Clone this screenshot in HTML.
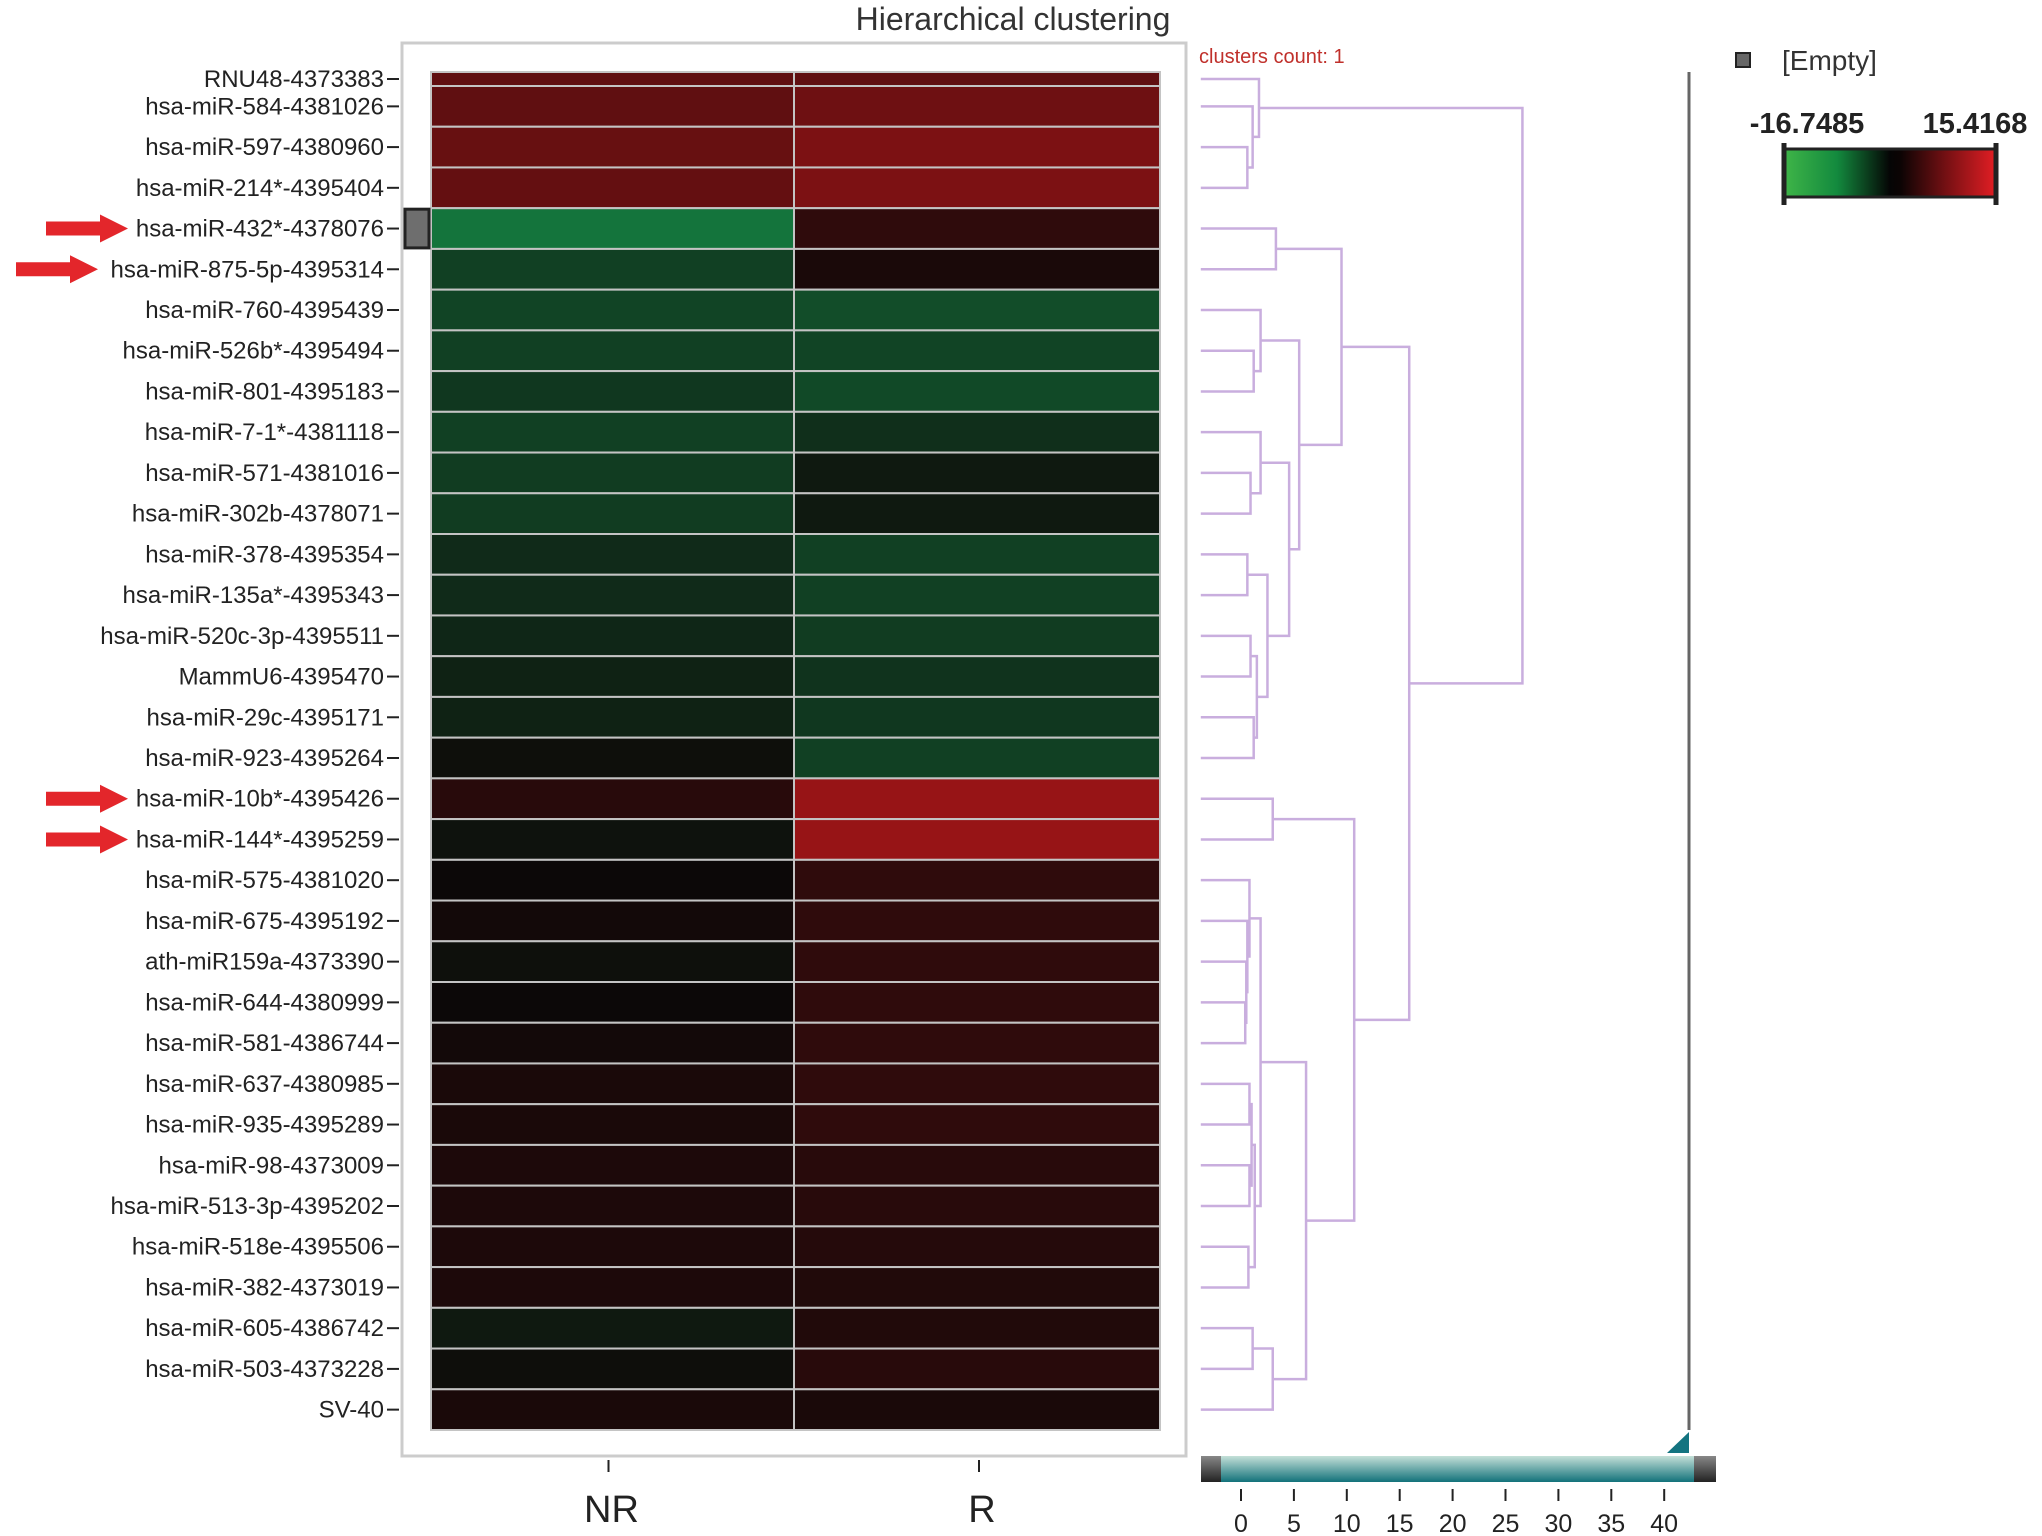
<!DOCTYPE html>
<html><head><meta charset="utf-8"><style>
html,body{margin:0;padding:0;background:#fff;}
svg{display:block;font-family:"Liberation Sans",sans-serif;}
</style></head><body>
<svg id="chart" width="2042" height="1536" viewBox="0 0 2042 1536" xmlns="http://www.w3.org/2000/svg">
<defs>
<linearGradient id="cbar" x1="0" x2="1" y1="0" y2="0">
<stop offset="0" stop-color="#3fb548"/><stop offset="0.25" stop-color="#138a3e"/><stop offset="0.5" stop-color="#050505"/><stop offset="0.55" stop-color="#0c0404"/><stop offset="0.75" stop-color="#6e0f12"/><stop offset="1" stop-color="#e31e24"/>
</linearGradient>
<linearGradient id="teal" x1="0" x2="0" y1="0" y2="1">
<stop offset="0" stop-color="#c4e0d8"/><stop offset="1" stop-color="#12727a"/>
</linearGradient>
<linearGradient id="cap" x1="0" x2="0" y1="0" y2="1">
<stop offset="0" stop-color="#888"/><stop offset="1" stop-color="#222"/>
</linearGradient>
</defs>
<text x="1013" y="30" text-anchor="middle" font-size="32" fill="#333">Hierarchical clustering</text>
<rect x="402" y="43" width="784" height="1413" fill="#fff" stroke="#ccc" stroke-width="3"/>
<g id="heat"></g>
<g id="labels"></g>
<g id="dendro"></g>
<text x="1199" y="63" font-size="20" fill="#c0302b">clusters count: 1</text>
<line x1="1689" y1="72" x2="1689" y2="1430" stroke="#666" stroke-width="3"/>
<polygon points="1667,1453 1689,1432 1689,1453" fill="#137480"/>
<g>
<rect x="1201" y="1456" width="515" height="26" fill="url(#teal)"/>
<rect x="1201" y="1456" width="20" height="26" fill="url(#cap)"/>
<rect x="1694" y="1456" width="22" height="26" fill="url(#cap)"/>
</g>
<g id="xaxis"></g>
<rect x="1736" y="53" width="14" height="14" fill="#666" stroke="#222" stroke-width="2"/>
<text x="1782" y="70" font-size="28" fill="#333">[Empty]</text>
<text x="1807" y="133" text-anchor="middle" font-size="29" font-weight="bold" fill="#222">-16.7485</text>
<text x="1975" y="133" text-anchor="middle" font-size="29" font-weight="bold" fill="#222">15.4168</text>
<rect x="1784" y="149" width="212" height="48" fill="url(#cbar)" stroke="#222" stroke-width="3"/>
<line x1="1784" y1="143" x2="1784" y2="205" stroke="#222" stroke-width="5"/>
<line x1="1996" y1="143" x2="1996" y2="205" stroke="#222" stroke-width="5"/>
</svg>
<script>
const rowLabels = ["RNU48-4373383","hsa-miR-584-4381026","hsa-miR-597-4380960","hsa-miR-214*-4395404","hsa-miR-432*-4378076","hsa-miR-875-5p-4395314","hsa-miR-760-4395439","hsa-miR-526b*-4395494","hsa-miR-801-4395183","hsa-miR-7-1*-4381118","hsa-miR-571-4381016","hsa-miR-302b-4378071","hsa-miR-378-4395354","hsa-miR-135a*-4395343","hsa-miR-520c-3p-4395511","MammU6-4395470","hsa-miR-29c-4395171","hsa-miR-923-4395264","hsa-miR-10b*-4395426","hsa-miR-144*-4395259","hsa-miR-575-4381020","hsa-miR-675-4395192","ath-miR159a-4373390","hsa-miR-644-4380999","hsa-miR-581-4386744","hsa-miR-637-4380985","hsa-miR-935-4395289","hsa-miR-98-4373009","hsa-miR-513-3p-4395202","hsa-miR-518e-4395506","hsa-miR-382-4373019","hsa-miR-605-4386742","hsa-miR-503-4373228","SV-40"];
const columns = ["NR","R"];
const valuesNR = [6,6,6.5,6.3,-12,-6,-6.5,-6,-5,-6,-5.5,-5.5,-3.5,-3.5,-3,-2.5,-2.5,-0.3,2,-0.7,0,0.5,-0.5,0,0.5,1,1,1.2,1.2,1.2,1.2,-1.5,-0.2,1];
const valuesR = [6,7,8,8,2.5,1,-7.5,-6.5,-7,-4,-1.5,-1.5,-6,-6,-5.5,-4.5,-5,-6,10,10,2.5,2.5,2.5,2.5,2.5,2.5,2.5,2,2,1.8,1.5,1.5,2,1];
const highlightedRows = [4,5,18,19];
const scaleTicks = [0,5,10,15,20,25,30,35,40];
// dendrogram merges: [childA, childB, height]; numbers = leaf rows, "nK" = node K
const merges = [
 [2,3,0.6],[1,"n0",1.1],[0,"n1",1.7],
 [4,5,3.3],
 [7,8,1.2],[6,"n4",1.85],
 [10,11,0.9],[9,"n6",1.85],
 [12,13,0.6],
 [14,15,0.9],[16,17,1.2],["n9","n10",1.5],
 ["n8","n11",2.5],
 ["n7","n12",4.55],
 ["n5","n13",5.5],
 ["n3","n14",9.5],
 [18,19,3.0],
 [23,24,0.4],[22,"n17",0.5],[21,"n18",0.6],[20,"n19",0.8],
 [25,26,0.8],[27,28,0.8],["n21","n22",1.0],[29,30,0.7],["n23","n24",1.3],["n20","n25",1.85],
 [31,32,1.1],["n27",33,3.0],["n26","n28",6.15],
 ["n16","n29",10.7],
 ["n15","n30",15.9],
 ["n2","n31",26.6]
];
const NS="http://www.w3.org/2000/svg";
function mk(tag,attrs,parent,text){const e=document.createElementNS(NS,tag);for(const k in attrs)e.setAttribute(k,attrs[k]);if(text!==undefined)e.textContent=text;parent.appendChild(e);return e;}
const H0=72, H1=86, RH=(1430-86)/33, HX0=431, HX1=1160, HMID=794;
function rowTop(i){return i===0?H0:H1+(i-1)*RH;}
function rowBot(i){return i===0?H1:H1+i*RH;}
function rowMid(i){return (rowTop(i)+rowBot(i))/2;}
function colX(j){return j===0?HX0:HMID;}
function colW(j){return j===0?HMID-HX0:HX1-HMID;}
function color(v){
 if(v>=0){const t=Math.min(v/15.4168,1);return `rgb(${Math.round(12+215*t)},${Math.round(8+18*t)},${Math.round(8+22*t)})`;}
 const t=Math.min(-v/16.7485,1);return `rgb(${Math.round(14+8*t)},${Math.round(12+145*t)},${Math.round(10+70*t)})`;
}
const heat=document.getElementById('heat');
const series=[valuesNR,valuesR];
for(let j=0;j<2;j++){for(let i=0;i<rowLabels.length;i++){
 const r=mk('rect',{x:colX(j),y:rowTop(i),width:colW(j),height:rowBot(i)-rowTop(i),fill:color(series[j][i]),stroke:'#c4c4c4','stroke-width':2},heat);
 
 
}}
const sel=mk('rect',{x:405,y:rowTop(4)+1,width:24,height:RH-2,fill:'#6e6e6e',stroke:'#222','stroke-width':3},heat);


const lab=document.getElementById('labels');
for(let i=0;i<rowLabels.length;i++){
 const y=rowMid(i);
 const t=mk('text',{x:384,y:y+8,'text-anchor':'end','font-size':24,fill:'#222'},lab,rowLabels[i]);
 
 
 mk('line',{x1:387,y1:y,x2:399,y2:y,stroke:'#222','stroke-width':2},lab);
}
highlightedRows.forEach(i=>{
 const y=rowMid(i); const xr=(i===5)?98:128; const xl=xr-82;
 const a=mk('polygon',{points:`${xl},${y-7} ${xr-28},${y-7} ${xr-28},${y-14} ${xr},${y} ${xr-28},${y+14} ${xr-28},${y+7} ${xl},${y+7}`,fill:'#e3262b'},lab);
 
 
});
const xa=document.getElementById('xaxis');
for(let j=0;j<2;j++){
 const cx=colX(j)+colW(j)/2+(j===0?-4:2);
 mk('line',{x1:cx,y1:1460,x2:cx,y2:1472,stroke:'#222','stroke-width':2},xa);
 const t=mk('text',{x:cx+3,y:1522,'text-anchor':'middle','font-size':38,fill:'#222'},xa,columns[j]);
 
 
}
function sx(u){return 1241+u*10.58;}
scaleTicks.forEach(v=>{
 mk('line',{x1:sx(v),y1:1489,x2:sx(v),y2:1501,stroke:'#222','stroke-width':2},xa);
 const t=mk('text',{x:sx(v),y:1532,'text-anchor':'middle','font-size':25,fill:'#222'},xa,String(v));
 
 
});
const dg=document.getElementById('dendro');
const leafX=sx(-3.8);
const pos={};
function P(c){return typeof c==='number'?{x:leafX,y:rowMid(c)}:pos[c];}
merges.forEach((m,k)=>{
 const a=P(m[0]),b=P(m[1]),x=sx(m[2]);
 const st={stroke:'#c9aede','stroke-width':2.5,fill:'none'};
 const p=mk('path',Object.assign({d:`M${a.x},${a.y}H${x}V${b.y}H${b.x}`},st),dg);
 
 
 pos['n'+k]={x:x,y:(a.y+b.y)/2};
});
</script>
</body></html>
